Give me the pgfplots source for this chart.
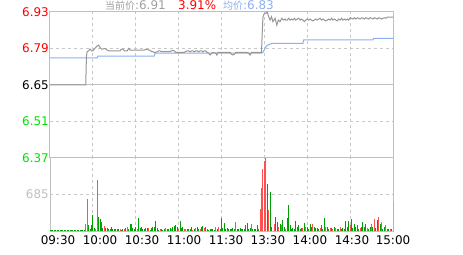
\documentclass[border=0pt]{standalone}
\usepackage{pgfplots}
\pgfplotsset{compat=1.18}
\usepackage{fontspec}
\setmainfont{DejaVu Sans}
\newfontfamily\cjk{Noto Sans CJK SC}
\definecolor{framec}{RGB}{192,192,192}
\definecolor{gridc}{RGB}{200,200,200}
\definecolor{upred}{RGB}{255,0,0}
\definecolor{dngreen}{RGB}{0,225,0}
\definecolor{barred}{RGB}{255,80,80}
\definecolor{bargreen}{RGB}{0,160,0}
\definecolor{pricegray}{RGB}{150,150,150}
\definecolor{avgblue}{RGB}{140,175,240}
\definecolor{titlegray}{RGB}{160,160,160}
\newcommand{\lf}{\fontsize{12}{12}\selectfont}
\pgfplotsset{common/.style={
  scale only axis, width=343bp, xmin=0, xmax=240,
  xtick={0,30,...,240}, xticklabels={},
  xmajorgrids, ymajorgrids,
  major grid style={gridc, dash pattern=on 3bp off 3bp, line width=1bp},
  axis line style={framec, line width=1bp},
  major tick length=0pt, tick style={draw=none},
  every tick label/.append style={font=\lf},
  yticklabel style={inner sep=0pt, xshift=-1bp},
}}
\begin{document}
\begin{tikzpicture}
\useasboundingbox (-50bp,-24bp) rectangle (413bp,231bp);
% ---------- price panel ----------
\begin{axis}[common, at={(0,73bp)}, anchor=south west, height=146bp,
  ymin=6.37, ymax=6.93,
  ytick={6.37,6.51,6.65,6.79,6.93},
  yticklabels={\textcolor{dngreen}{6.37},\textcolor{dngreen}{6.51},\textcolor{black}{6.65},\textcolor{upred}{6.79},\textcolor{upred}{6.93}},
]
\draw[framec, line width=1bp] (axis cs:0,6.65) -- (axis cs:240,6.65);
% average price
\addplot[avgblue, line width=1bp] coordinates {
(0,6.754)(33,6.754)(33.5,6.761)(73,6.761)(73.5,6.772)(148,6.772)(149,6.775)(150,6.785)(151,6.796)(152,6.802)(154,6.807)(156,6.81)(177,6.81)(177.5,6.823)(226,6.823)(226.5,6.829)(240,6.829)
};
% last price
\addplot[pricegray, line width=1bp] coordinates {
(0,6.65)(25,6.65)(25.5,6.76)(26,6.778)(27,6.781)(28,6.788)(29,6.781)(30,6.781)(31,6.788)(32,6.794)(33,6.80)(34,6.803)(35,6.794)(36,6.788)(37,6.788)(38,6.79)(39,6.788)(40,6.784)(41,6.781)(43,6.781)(45,6.781)(47,6.781)(49,6.781)(50,6.788)(51,6.788)(52,6.781)(54,6.781)(55,6.79)(56,6.784)(58,6.784)(60,6.784)(62,6.784)(64,6.784)(66,6.784)(67,6.787)(68,6.787)(69,6.784)(70,6.784)(71,6.778)(72,6.778)(73,6.775)(74,6.775)(75,6.778)(76,6.781)(77,6.781)(78,6.778)(80,6.778)(82,6.778)(84,6.778)
(85,6.781)(86,6.783)(87,6.781)(88,6.775)(90,6.775)(92,6.775)(94,6.775)(95,6.779)(96,6.781)(97,6.781)(98,6.777)(99,6.781)(100,6.781)(101,6.777)(102,6.781)(103,6.781)(104,6.777)(105,6.781)(106,6.781)(107,6.777)(108,6.781)(109,6.781)(110,6.775)(111,6.772)(112,6.765)(113,6.772)(114,6.775)(116,6.772)(116.7,6.765)(117.5,6.775)(119,6.775)(122,6.775)(126,6.775)(127,6.768)(128,6.765)(129,6.768)(130,6.775)(134,6.775)(138,6.775)(139,6.772)(140,6.765)(141,6.775)(144,6.775)(146,6.775)(148,6.775)
(148.5,6.85)(149,6.91)(150,6.925)(151,6.925)(152,6.93)(153,6.912)(154,6.899)(155,6.912)(156,6.893)(157.5,6.906)(158.7,6.88)(159.8,6.899)(161,6.893)(162.2,6.906)(163.3,6.899)(164.5,6.903)(165,6.899)
(166,6.899)(167,6.906)(168,6.899)(169,6.903)(170,6.899)(171,6.906)(172,6.899)(173,6.903)(174,6.906)(175,6.899)(176,6.903)(177,6.899)(178,6.893)(179,6.899)(180,6.903)(181,6.899)(182,6.903)(183,6.899)(184,6.896)(185,6.899)(186,6.903)(187,6.899)(188,6.903)(189,6.906)(190,6.899)(191,6.903)(192,6.899)(193,6.896)(194,6.899)(195,6.903)(196,6.899)(197,6.906)(198,6.899)(199,6.903)(200,6.899)(201,6.896)(202,6.903)(203,6.899)(204,6.906)(205,6.899)(206,6.903)(207,6.899)(208,6.903)(209,6.899)(210,6.908)(211,6.906)(212,6.903)(213,6.908)(214,6.903)(215,6.908)(216,6.906)(217,6.903)(218,6.908)(219,6.906)(220,6.903)(221,6.908)(222,6.906)(223,6.903)(224,6.908)(225,6.906)(226,6.903)(227,6.908)(228,6.906)(229,6.903)(230,6.908)(231,6.906)(232,6.903)(233,6.906)(234,6.908)(235,6.906)(236,6.91)(238,6.91)(240,6.91)
};
\node[anchor=west, inner sep=0pt, text=upred, font=\lf, xshift=3bp] at (rel axis cs:1,1) {+4.21\%};
\node[anchor=west, inner sep=0pt, text=upred, font=\lf, xshift=3bp] at (rel axis cs:1,0.75) {+2.11\%};
\node[anchor=west, inner sep=0pt, text=black, font=\lf, xshift=3bp] at (rel axis cs:1,0.5) {0.00\%};
\node[anchor=west, inner sep=0pt, text=dngreen, font=\lf, xshift=3bp] at (rel axis cs:1,0.25) {-2.11\%};
\node[anchor=west, inner sep=0pt, text=dngreen, font=\lf, xshift=3bp] at (rel axis cs:1,0) {-4.21\%};
\end{axis}
% ---------- volume panel ----------
\begin{axis}[common, at={(0,0)}, anchor=south west, height=73bp,
  ymin=0, ymax=1370, ytick={685}, yticklabels={\textcolor{framec}{685}},
  extra x ticks={5.6,35,64.4,93.8,123.2,152.5,181.9,211.3,240},
  extra x tick labels={09:30,10:00,10:30,11:00,11:30,13:30,14:00,14:30,15:00},
  extra x tick style={grid=none, xticklabel style={anchor=north, inner sep=0pt, yshift=-4bp}},
]
\addplot[ycomb, bargreen, line width=1bp] coordinates {
(0,15)(1,15)(2,15)(3,15)(4,15)(5,15)(6,15)(7,15)(8,15)(9,15)(10,15)(11,15)(12,15)(13,15)(14,15)(15,15)(16,15)(17,15)(18,15)(19,15)(20,15)(21,15)(22,15)(23,15)(24,15)
(27,110)(28,40)(29,110)(30,300)(31,55)(34,260)(35,225)(36,170)(37,55)(39,55)(40,50)(41,32)(42,32)(43,70)(44,43)(45,43)(46,43)(47,43)(48,32)(50,19)(51,32)(53,50)(55,32)(56,130)(57,130)(58,50)(59,32)(60,70)(62,245)(63,50)(64,70)(65,38)(66,32)(67,50)(68,50)(70,19)(71,50)(72,70)(73,70)(74,190)(75,50)(76,28)(78,43)(79,19)(80,32)(82,32)(83,32)(84,50)(86,70)(87,95)(88,113)(89,80)(91,190)(92,50)(93,70)(96,32)(97,43)(98,38)(99,70)(101,43)(103,70)(104,32)(106,70)(107,95)(109,70)(110,32)(111,19)(112,32)(113,32)(114,32)(115,19)(117,38)
(119,40)(120,240)(121,50)(122,155)(123,40)(124,50)(125,32)(126,45)(127,40)(128,50)(129,32)(131,40)(132,32)(133,55)(134,32)(135,45)(136,32)(137,105)(138,155)(139,32)(140,62)(142,30)(143,43)(144,32)(145,105)(146,40)
(152,875)(154,730)(155,80)(158,270)(159,170)(161,125)(163,205)(164,80)(166,240)(167,480)(168,105)(169,40)(170,62)(171,40)(172,190)(173,80)(174,105)(175,40)(176,62)(178,145)(180,80)(181,40)(182,125)(183,80)(185,80)(186,62)(187,62)(188,40)(190,105)(191,40)(192,240)(194,80)(195,40)(197,62)(199,80)(201,43)(202,32)(204,43)(205,62)(206,40)(207,190)(208,80)(209,190)(211,220)(212,62)(213,125)(214,80)(215,105)(216,40)(218,80)(219,170)(220,80)(221,125)(223,40)(224,80)(226,80)(228,62)(229,205)(231,125)(233,40)(234,80)(236,43)(237,30)(239,40)(240,545)
};
\addplot[ycomb, barred, line width=1bp] coordinates {
(25,130)(26,600)(32,38)(33,960)(38,95)(49,32)(52,32)(54,70)(61,38)(69,50)(77,32)(81,50)(85,32)(90,38)(94,32)(95,43)(100,19)(102,50)(105,43)(108,50)(116,70)(118,80)(130,175)(141,125)(147,405)(148,815)(149,1160)(150,1315)(151,1370)(153,395)(157,125)(160,80)(162,105)(165,43)(177,62)(179,80)(184,125)(189,62)(193,80)(196,62)(198,43)(200,62)(203,80)(210,105)(217,62)(222,62)(225,125)(227,230)(230,270)(232,170)(235,105)(238,43)
};
\end{axis}
% ---------- title ----------
\node[anchor=base west, inner sep=0pt, text=titlegray, font=\lf] at (55bp,221bp) {{\cjk\fontsize{10}{10}\selectfont 当前价}:6.91};
\node[anchor=base west, inner sep=0pt, text=upred, font=\lf] at (128bp,221bp) {3.91\%};
\node[anchor=base west, inner sep=0pt, text=avgblue, font=\lf] at (173bp,221bp) {{\cjk\fontsize{10}{10}\selectfont 均价}:6.83};
\end{tikzpicture}
\end{document}
